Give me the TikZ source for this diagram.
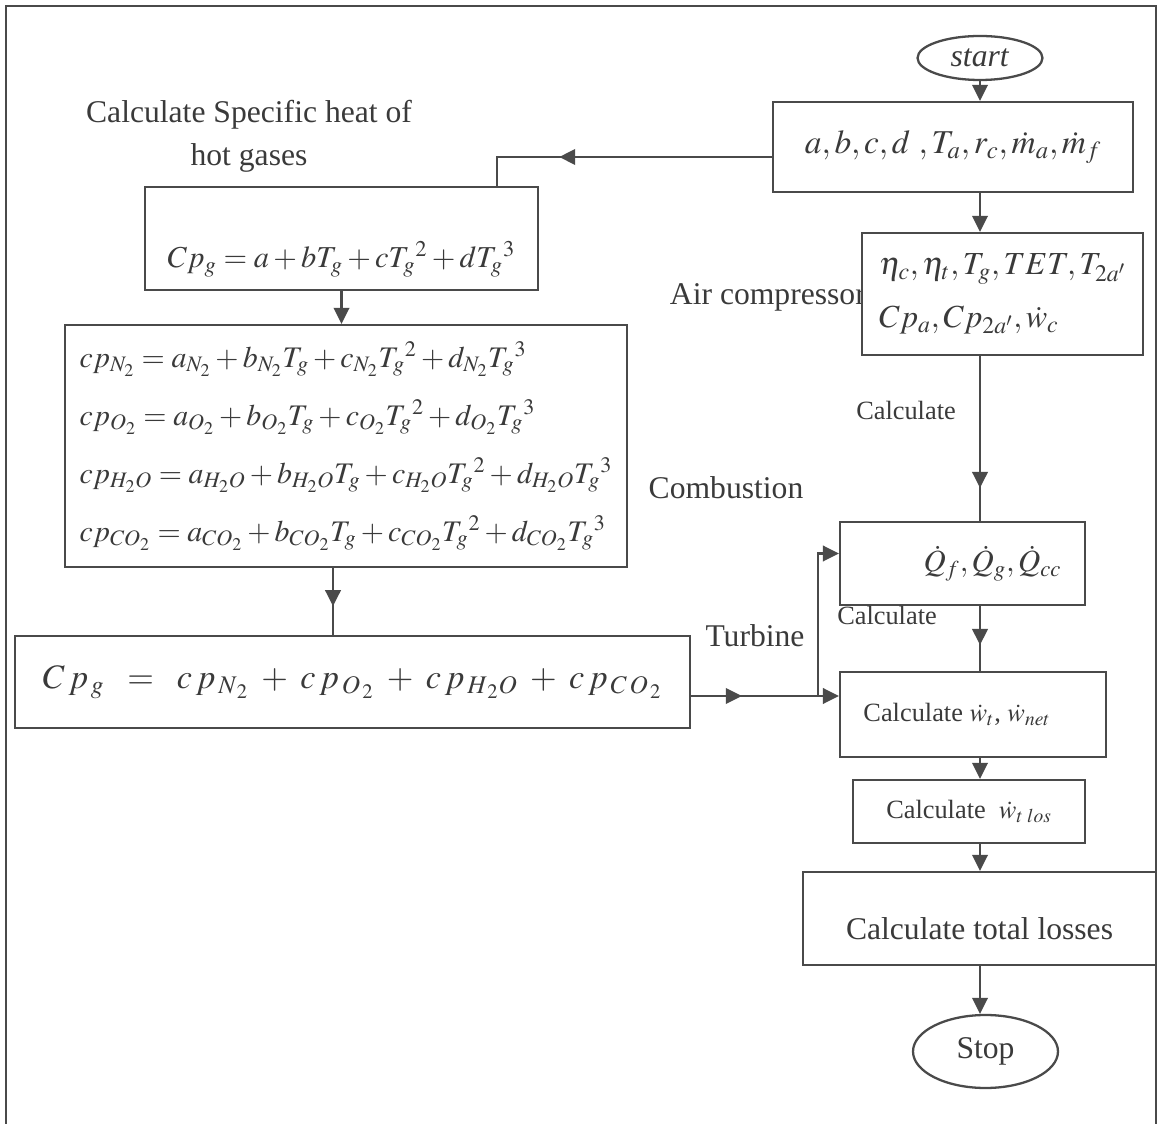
\documentclass[tikz,border=0pt]{standalone}
\usepackage{mathptmx}
\usepackage{fontspec}
\setmainfont{Liberation Serif}
\usepackage{tikz}
\usetikzlibrary{arrows.meta,calc,decorations.markings,shapes.geometric}
\definecolor{InkGray}{HTML}{3A3A3A}
\definecolor{WireGray}{HTML}{4A4A4A}

\begin{document}
\begin{tikzpicture}[x=0.02cm,y=-0.02cm,
      every node/.style={text=InkGray},
      procbox/.style={draw=WireGray,line width=1.3pt,fill=white,inner sep=0pt},
      termnode/.style={ellipse,draw=WireGray,line width=1.3pt,inner sep=0pt},
      wire/.style={WireGray,line width=1.3pt},
      arr/.style={wire,-{Triangle[length=3.2mm,width=3.1mm]}},
      midarr/.style={postaction={decorate},decoration={markings,
      mark=at position #1 with {\arrow{Triangle[length=3.2mm,width=3.1mm]}}}},
      txtbig/.style={font=\fontsize{18}{24.5}\selectfont},
      txtsmall/.style={font=\fontsize{15}{18}\selectfont}]
      \useasboundingbox (0,0) rectangle (1160,1124);
      \draw[wire] (6,1124) -- (6,6) -- (1156,6) -- (1156,1124);
      \coordinate (spine) at (980,0);
      \coordinate (tj) at (818,696);
      \node[txtbig,anchor=east] (lblAir) at (872,297) {Air compressor};
      \node[termnode,minimum width=2.5cm,minimum height=0.88cm,txtbig] (start) at (980,58) {\textit{start}};
      \node[procbox,minimum width=7.2cm,minimum height=1.8cm,font=\fontsize{19}{24}\selectfont] (inp) at (953,147)
        {$a,b,c,d\ ,T_a,r_c,\dot{m}_a,\dot{m}_f$};
      \node[procbox,minimum width=5.62cm,minimum height=2.44cm,align=left,font=\fontsize{18.3}{30}\selectfont] (air) at (1002.5,294)
        {$\eta_c,\eta_t,T_g,TET,T_{2a'}$\\$Cp_a,Cp_{2a'},\dot{w}_c$};
      \node[procbox,minimum width=4.9cm,minimum height=1.66cm,font=\fontsize{17.5}{22}\selectfont] (q) at (962.5,563.5)
        {\hspace*{1.2cm}$\dot{Q}_f,\dot{Q}_g,\dot{Q}_{cc}$};
      \node[procbox,minimum width=5.32cm,minimum height=1.7cm,txtsmall] (wt) at (973,714.5)
        {Calculate $\dot{w}_t$, $\dot{w}_{net}$\hspace*{0.64cm}};
      \node[procbox,minimum width=4.64cm,minimum height=1.26cm,txtsmall] (wlos) at (969,811.5)
        {Calculate \ $\dot{w}_{t\;los}$};
      \node[procbox,minimum width=7.06cm,text height=1.36cm,text depth=0.5cm,txtbig] (tot) at (979.5,918.5)
        {Calculate total losses};
      \node[termnode,minimum width=2.9cm,minimum height=1.46cm,txtbig] (stop) at (985.5,1051.5) {Stop};
      \node[txtbig,align=center] (lblSpec) at (249,136) {Calculate Specific heat of\\hot gases};
      \node[procbox,minimum width=7.86cm,text height=1.62cm,text depth=0.44cm,font=\fontsize{17.3}{22}\selectfont] (cpg) at (341.5,238.5)
        {$Cp_g=a+bT_g+cT_g{}^2+dT_g{}^3$};
      \node[procbox,minimum width=11.24cm,minimum height=4.84cm,align=left,font=\fontsize{17}{33}\selectfont] (cpi) at (346,446)
        {$cp_{N_2}=a_{N_2}+b_{N_2}T_g+c_{N_2}T_g{}^2+d_{N_2}T_g{}^3$\\
         $cp_{O_2}=a_{O_2}+b_{O_2}T_g+c_{O_2}T_g{}^2+d_{O_2}T_g{}^3$\\
         $cp_{H_2O}=a_{H_2O}+b_{H_2O}T_g+c_{H_2O}T_g{}^2+d_{H_2O}T_g{}^3$\\
         $cp_{CO_2}=a_{CO_2}+b_{CO_2}T_g+c_{CO_2}T_g{}^2+d_{CO_2}T_g{}^3$};
      \node[procbox,minimum width=13.5cm,minimum height=1.84cm,font=\fontsize{19.5}{24}\selectfont] (sum) at (352.5,682)
        {$C\,p_{\,g}\;\;=\;\;c\,p_{\,N_{\,2}}\;+\;c\,p_{\,O_{\,2}}\;+\;c\,p_{\,H_{\,2}O}\;+\;c\,p_{\,C\,O_{\,2}}$};
      \node[txtsmall] (lblCalcA) at (906,410) {Calculate};
      \node[txtbig] (lblComb) at (726,488) {Combustion};
      \node[txtbig] (lblTurb) at (755,636) {Turbine};
      \node[txtsmall] (lblCalcB) at (887,615) {Calculate};
      \draw[arr] (start) -- (start |- inp.north);
      \draw[wire,midarr=0.7] ([yshift=-0.2cm]inp.west) -| ([xshift=3.11cm]cpg.north);
      \draw[arr] (cpg.south) -- (cpg.south |- cpi.north);
      \draw[wire,midarr=0.57] ([xshift=-0.26cm]cpi.south) -- ([xshift=-0.26cm]cpi.south |- sum.north);
      \draw[wire,midarr=0.4] (sum.east |- tj) -- (tj);
      \draw[arr] (tj) -- (tj -| wt.west);
      \draw[arr] (tj) |- ([yshift=0.2cm]q.west);
      \draw[arr] (inp.south -| spine) -- (air.north -| spine);
      \draw[wire,midarr=0.8] (air.south -| spine) -- (q.north -| spine);
      \draw[wire,midarr=0.6] (q.south -| spine) -- (wt.north -| spine);
      \draw[arr] (wt.south -| spine) -- (wlos.north -| spine);
      \draw[arr] (wlos.south -| spine) -- (tot.north -| spine);
      \draw[arr] (tot.south -| spine) -- (stop.north -| spine);
    \end{tikzpicture}
\end{document}
